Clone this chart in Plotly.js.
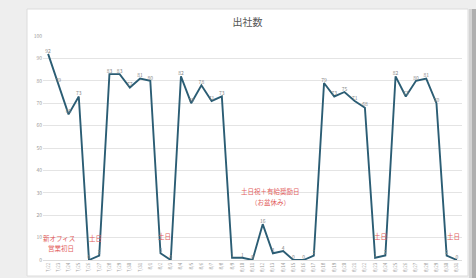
<!DOCTYPE html>
<html>
<head>
<meta charset="utf-8">
<script src="https://cdn.plot.ly/plotly-3.0.1.min.js"></script>
<style>html,body{margin:0;padding:0;background:#eeeeee;}#chart{width:476px;height:278px;}</style>
</head>
<body>
<div id="chart"></div>
<script>
// Data (2025/7/22 - 8/31)
const dates = ["7/22","7/23","7/24","7/25","7/26","7/27","7/28","7/29","7/30","7/31",
  "8/1","8/2","8/3","8/4","8/5","8/6","8/7","8/8","8/9","8/10",
  "8/11","8/12","8/13","8/14","8/15","8/16","8/17","8/18","8/19","8/20",
  "8/21","8/22","8/23","8/24","8/25","8/26","8/27","8/28","8/29","8/30","8/31"];
const attendance = [92,79,65,73,0,2,83,83,77,81,
  80,3,0,82,70,78,71,73,1,1,
  0,16,3,4,0,0,2,79,73,75,
  71,68,1,2,82,73,80,81,70,2,0];
const yTicks = [0,10,20,30,40,50,60,70,80,90,100];
const noteTexts = ["新オフィス","営業初日","土日","土日","土日祝＋有給奨励日","（お盆休み）","土日","土日"];
const noteX = [-0.5,-0.2,4.6,11.4,21.8,21.8,32.5,39.7];
const noteShift = [-2,0,0,0,0,0,0,0];
const noteAnchor = ['left','left','center','center','center','center','center','center'];
const noteY = [10,5.2,10,10.7,31,26,10.7,10.7];
const titleText = "出社数";

const font = "'Noto Sans CJK JP', 'Noto Sans', sans-serif";
const W = 476, H = 278, L = 43, R = 14, T = 36, B = 18;
const pw = W - L - R, ph = H - T - B;
const px = v => (v - L) / pw;
const py = v => (H - B - v) / ph;

const trace = {
  x: dates.map((d, i) => i),
  y: attendance,
  type: 'scatter',
  mode: 'lines+text',
  line: {color: '#2b5d74', width: 1.9},
  text: attendance.map(String),
  textposition: 'top center',
  textfont: {size: 5, color: '#888888', family: font},
  cliponaxis: false,
  hoverinfo: 'none'
};

const annotations = noteTexts.map((t, i) => ({
  x: noteX[i], y: noteY[i], xref: 'x', yref: 'y', xshift: noteShift[i],
  text: t, showarrow: false,
  font: {size: 6.5, color: '#e25c5c', family: font},
  xanchor: noteAnchor[i], yanchor: 'middle'
}));

const shapes = [
  {type: 'rect', xref: 'paper', yref: 'paper', x0: px(27), x1: px(468), y0: py(276), y1: py(9),
   fillcolor: '#ffffff', line: {color: '#dcdcdc', width: 1}, layer: 'below'},
  {type: 'rect', xref: 'paper', yref: 'paper', x0: px(469), x1: px(472), y0: py(278), y1: py(9),
   fillcolor: '#d4d4d4', line: {width: 0}, layer: 'below'},
  {type: 'rect', xref: 'paper', yref: 'paper', x0: px(472), x1: px(476), y0: py(278), y1: py(9),
   fillcolor: '#b0b0b0', line: {width: 0}, layer: 'below'}
];

const layout = {
  width: W, height: H,
  margin: {l: L, r: R, t: T, b: B, pad: 0},
  paper_bgcolor: '#eeeeee',
  plot_bgcolor: 'rgba(0,0,0,0)',
  showlegend: false,
  title: {text: titleText, font: {size: 10, color: '#555555', family: font},
          x: 0.52, xanchor: 'center', y: 1 - 22 / H, yanchor: 'middle'},
  xaxis: {
    type: 'linear', range: [-0.5, dates.length - 0.5],
    tickvals: dates.map((d, i) => i), ticktext: dates,
    tickangle: -90, tickfont: {size: 4.5, color: '#999999', family: font},
    showgrid: false, zeroline: false, showline: true, linecolor: '#dddddd', linewidth: 1,
    ticks: '', fixedrange: true
  },
  yaxis: {
    range: [0, 100], tickvals: yTicks, ticktext: yTicks.map(String),
    tickfont: {size: 5, color: '#999999', family: font},
    showgrid: true, gridcolor: '#e4e4e4', gridwidth: 1, zeroline: false,
    showline: false, ticks: '', fixedrange: true
  },
  annotations: annotations,
  shapes: shapes
};

Plotly.newPlot('chart', [trace], layout, {displayModeBar: false, staticPlot: true});
</script>
</body>
</html>
